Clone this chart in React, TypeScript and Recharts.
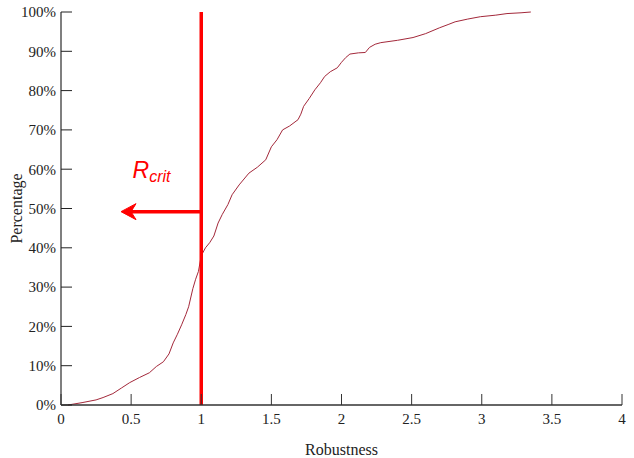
import React from 'react';
import { LineChart, Line, XAxis, YAxis, ReferenceLine, ReferenceDot } from 'recharts';

const robustness = [0.05, 0.15, 0.25, 0.3, 0.37, 0.43, 0.49, 0.56, 0.63, 0.68, 0.73, 0.77, 0.8, 0.83, 0.86, 0.89, 0.91, 0.94, 0.96, 0.98, 1.0, 1.03, 1.06, 1.09, 1.12, 1.15, 1.19, 1.22, 1.27, 1.34, 1.4, 1.46, 1.5, 1.54, 1.58, 1.63, 1.69, 1.71, 1.73, 1.77, 1.81, 1.85, 1.88, 1.92, 1.97, 2.0, 2.03, 2.06, 2.12, 2.17, 2.2, 2.24, 2.28, 2.4, 2.51, 2.6, 2.7, 2.76, 2.81, 2.9, 2.99, 3.1, 3.18, 3.28, 3.35];
const percentage = [0, 0.6, 1.3, 1.9, 2.9, 4.3, 5.7, 7, 8.2, 9.8, 11, 13, 15.8, 18, 20.4, 23, 25, 29.6, 32, 34, 38, 40, 41.3, 43, 46.3, 48.5, 51, 53.5, 56, 59, 60.5, 62.4, 65.7, 67.5, 70, 71, 72.6, 74, 76, 78, 80.2, 82, 83.6, 84.8, 85.8, 87.2, 88.4, 89.3, 89.6, 89.7, 91, 91.8, 92.2, 92.8, 93.5, 94.5, 96, 96.8, 97.5, 98.2, 98.8, 99.2, 99.6, 99.8, 100];

const xTicks = [0, 0.5, 1, 1.5, 2, 2.5, 3, 3.5, 4];
const yTicks = [0, 10, 20, 30, 40, 50, 60, 70, 80, 90, 100];

const critValue = 1;
const arrowLevel = 49.2;
const arrowEnd = 0.428;
const labelPos = { r: 0.51, p: 57.8 };

const data = robustness.map((r, i) => ({ r, p: percentage[i] }));

const W = 634;
const H = 458;
const PLOT_LEFT = 61;
const PLOT_RIGHT = 622;
const PLOT_TOP = 12;
const PLOT_BOTTOM = 405;
const TICK = 11;
const SERIF = '"Liberation Serif", "Times New Roman", serif';
const AXIS_COLOR = '#555';
const RED = '#ff0000';

const BottomTick = (props: any) => {
  const { x, y, payload } = props;
  return (
    <g>
      <line x1={x} y1={PLOT_BOTTOM} x2={x} y2={PLOT_BOTTOM - TICK} stroke="#333" strokeWidth={1} />
      <text x={x} y={y} dy="0.71em" textAnchor="middle" fontFamily={SERIF} fontSize={15} fill="#222">
        {payload.value}
      </text>
    </g>
  );
};

const TopTick = (props: any) => {
  const { x } = props;
  return <line x1={x} y1={PLOT_TOP} x2={x} y2={PLOT_TOP + TICK} stroke="#333" strokeWidth={1} />;
};

const LeftTick = (props: any) => {
  const { y, payload } = props;
  return (
    <g>
      <line x1={PLOT_LEFT} y1={y} x2={PLOT_LEFT + TICK} y2={y} stroke="#222" strokeWidth={1} />
      <text x={PLOT_LEFT - 5} y={y} dy="0.355em" textAnchor="end" fontFamily={SERIF} fontSize={15} fill="#222">
        {`${payload.value}%`}
      </text>
    </g>
  );
};

const RightTick = (props: any) => {
  const { y } = props;
  return <line x1={PLOT_RIGHT} y1={y} x2={PLOT_RIGHT - TICK} y2={y} stroke="#222" strokeWidth={1} />;
};

const ArrowShape = (props: any) => {
  const { x1, y1, x2, y2 } = props;
  const tipX = Math.min(x1, x2);
  const startX = Math.max(x1, x2);
  const y = y1;
  return (
    <g>
      <line x1={startX} y1={y} x2={tipX + 8} y2={y2} stroke={RED} strokeWidth={3.5} />
      <path
        d={`M ${tipX} ${y} L ${tipX + 15} ${y - 8} L ${tipX + 10} ${y} L ${tipX + 15} ${y + 8} Z`}
        fill={RED}
        stroke={RED}
        strokeWidth={1}
        strokeLinejoin="miter"
      />
    </g>
  );
};

const CritLabel = (props: any) => {
  const { cx, cy } = props;
  return (
    <text x={cx} y={cy} fill={RED} fontFamily='"Liberation Sans", Arial, sans-serif' fontStyle="italic">
      <tspan fontSize={23}>R</tspan>
      <tspan fontSize={16} dy={4}>crit</tspan>
    </text>
  );
};

export default function App() {
  return (
    <div style={{ position: 'absolute', left: 0, top: 0, width: W, height: H, background: '#fff' }}>
      <LineChart width={W} height={H} data={data} margin={{ top: PLOT_TOP, right: W - PLOT_RIGHT, left: 0, bottom: 0 }}>
        <XAxis
          xAxisId="bottom"
          dataKey="r"
          type="number"
          domain={[0, 4]}
          ticks={xTicks}
          interval={0}
          height={H - PLOT_BOTTOM}
          tickLine={false}
          tickSize={6}
          tickMargin={2}
          axisLine={{ stroke: '#333', strokeWidth: 1.5 }}
          tick={<BottomTick />}
          label={{
            content: (p: any) => {
              const vb = p.viewBox || {};
              return (
                <text x={vb.x + vb.width / 2} y={455} textAnchor="middle" fontFamily={SERIF} fontSize={16} fill="#222">
                  Robustness
                </text>
              );
            },
          }}
        />
        <XAxis
          xAxisId="top"
          orientation="top"
          dataKey="r"
          type="number"
          domain={[0, 4]}
          ticks={xTicks}
          interval={0}
          height={0}
          tickLine={false}
          axisLine={{ stroke: AXIS_COLOR, strokeWidth: 1.5 }}
          tick={<TopTick />}
        />
        <YAxis
          yAxisId="left"
          type="number"
          domain={[0, 100]}
          ticks={yTicks}
          interval={0}
          width={PLOT_LEFT}
          tickLine={false}
          axisLine={{ stroke: AXIS_COLOR, strokeWidth: 1.5 }}
          tick={<LeftTick />}
          label={{
            content: () => (
              <text
                x={16}
                y={(PLOT_TOP + PLOT_BOTTOM) / 2}
                transform={`rotate(-90 16 ${(PLOT_TOP + PLOT_BOTTOM) / 2})`}
                textAnchor="middle"
                dy="0.355em"
                fontFamily={SERIF}
                fontSize={16}
                fill="#222"
              >
                Percentage
              </text>
            ),
          }}
        />
        <YAxis
          yAxisId="right"
          orientation="right"
          type="number"
          domain={[0, 100]}
          ticks={yTicks}
          interval={0}
          width={0}
          tickLine={false}
          axisLine={{ stroke: '#333', strokeWidth: 1.5 }}
          tick={<RightTick />}
        />
        <Line
          xAxisId="bottom"
          yAxisId="left"
          type="linear"
          dataKey="p"
          stroke="#a3283a"
          strokeWidth={1}
          dot={false}
          isAnimationActive={false}
        />
        <ReferenceLine
          xAxisId="bottom"
          yAxisId="left"
          x={critValue}
          stroke={RED}
          strokeWidth={3.5}
        />
        <ReferenceLine
          xAxisId="bottom"
          yAxisId="left"
          segment={[{ x: critValue, y: arrowLevel }, { x: arrowEnd, y: arrowLevel }]}
          shape={(p: any) => <ArrowShape {...p} />}
        />
        <ReferenceDot
          xAxisId="bottom"
          yAxisId="left"
          x={labelPos.r}
          y={labelPos.p}
          r={0}
          shape={(p: any) => <CritLabel {...p} />}
        />
      </LineChart>
    </div>
  );
}
